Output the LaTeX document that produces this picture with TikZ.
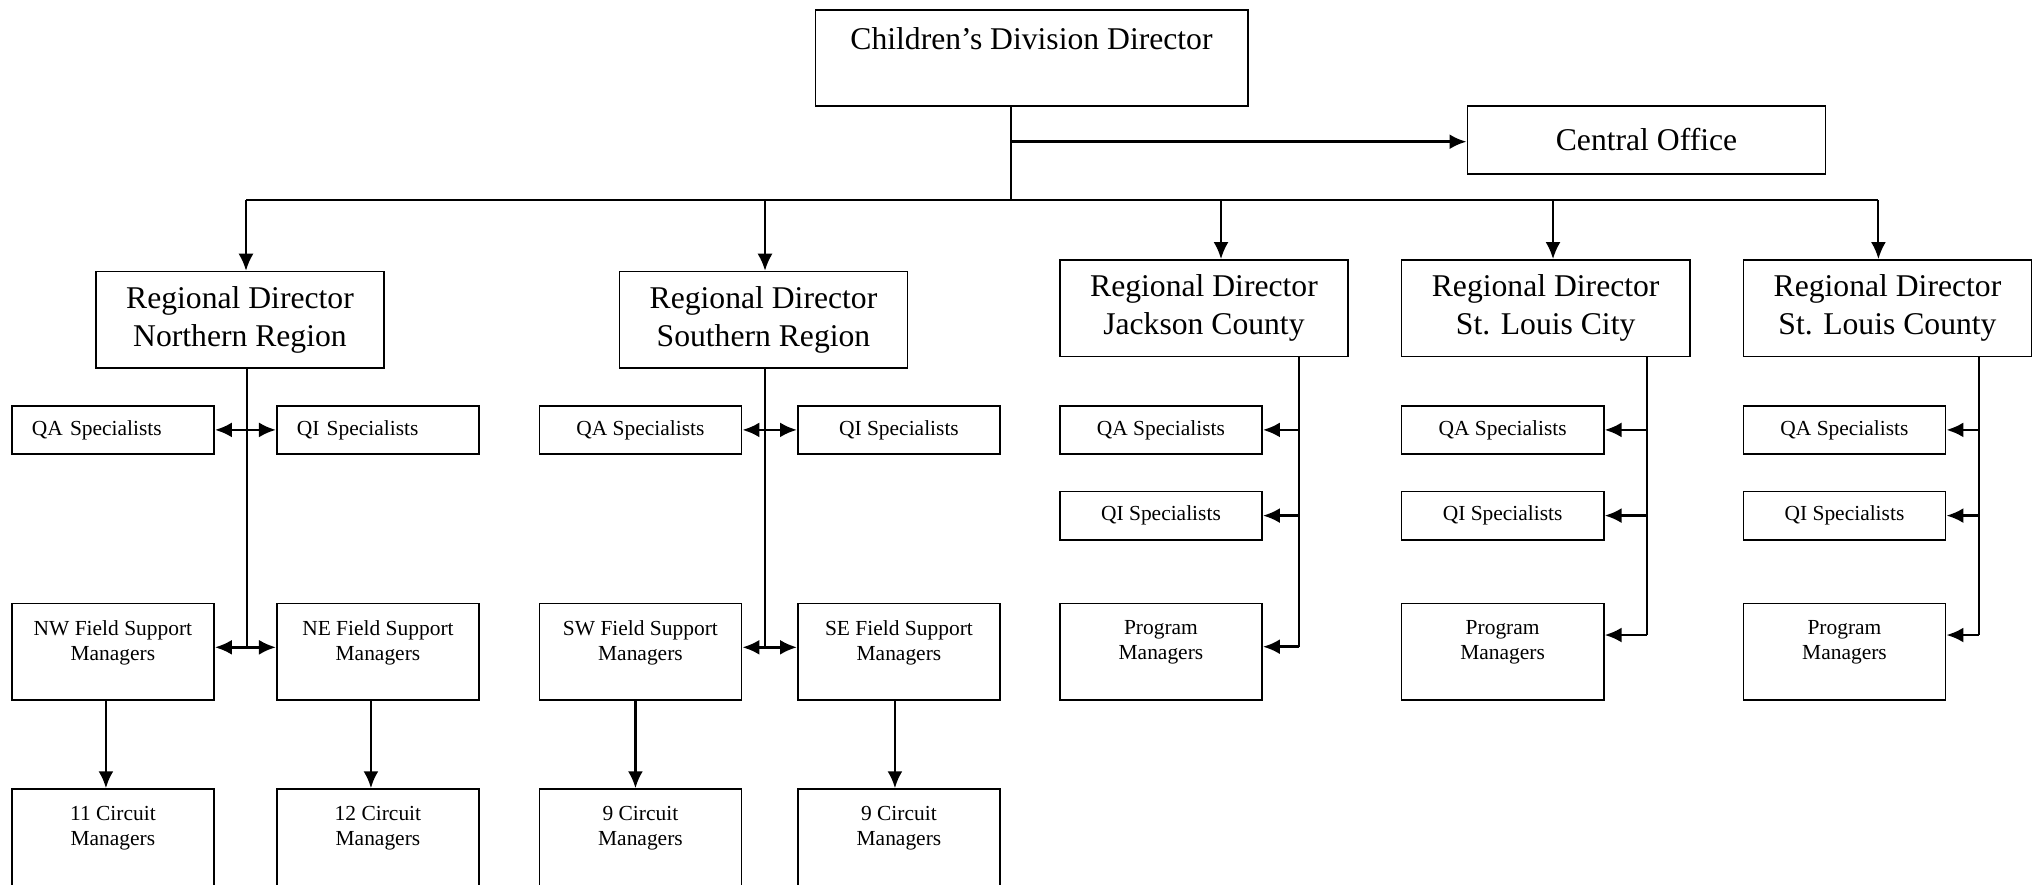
\documentclass[tikz,border=0pt]{standalone}
\usepackage{fontspec}
\setmainfont{Liberation Serif}
\usetikzlibrary{arrows.meta}
\tikzset{
  big/.style={font=\fontsize{9}{10.7}\selectfont},
  small/.style={font=\fontsize{6.1}{7.1}\selectfont},
  box/.style={draw, line width=.5pt, inner sep=0pt, anchor=north west, align=center},
  specbox/.style={box, small, minimum width=2.02cm, minimum height=.48cm},
  leftspec/.style={specbox, text width=1.62cm, align=left},
  rdbox/.style={box, big, minimum width=2.88cm, minimum height=.965cm},
  mgrbox/.style={box, minimum width=2.02cm, minimum height=.965cm,
    label={[small, align=center, anchor=north, inner sep=0pt, yshift=-.17cm]north:#1}},
  link/.style={line width=.6pt},
  arr/.style={->, line width=.8pt},
  darr/.style={<->, line width=.8pt}
}
\begin{document}
\begin{tikzpicture}[x=.01cm, y=-.01cm, >={Latex[length=1.7mm,width=1.5mm]}]
  \useasboundingbox (0,0) rectangle (2034,884);
  \clip (0,0) rectangle (2034,884);

  % director and central office
  \node[box, minimum width=4.32cm, minimum height=.96cm,
    label={[big, anchor=north, inner sep=0pt, yshift=-.18cm]north:Children’s Division Director}] (dir) at (814.5,9) {};
  \node[box, big, minimum width=3.58cm, minimum height=.68cm] (co) at (1466.5,105) {Central Office};
  \coordinate (hub) at (1011,200);
  \coordinate (tap) at (1011,141.7);
  \draw[link] (dir.south -| hub) -- (hub);
  \draw[arr] (tap) -- (tap -| co.west);

  % regional directors
  \node[rdbox] (rdn) at (95,270.7) {Regional Director\\Northern Region};
  \node[rdbox] (rds) at (618.5,270.7) {Regional Director\\Southern Region};
  \node[rdbox] (rdj) at (1059,259) {Regional Director\\Jackson County};
  \node[rdbox] (rdc) at (1400.7,259) {Regional Director\\St. Louis City};
  \node[rdbox] (rdk) at (1742.5,259) {Regional Director\\St. Louis County};

  \coordinate (bn) at (246,200);
  \coordinate (bs) at (765,200);
  \coordinate (bj) at (1221,200);
  \coordinate (bc) at (1553,200);
  \coordinate (bk) at (1878.4,200);
  \draw[link] (bn) -- (bk);
  \foreach \b/\n in {bn/rdn,bs/rds,bj/rdj,bc/rdc,bk/rdk}
    \draw[link,->] (\b) -- (\b |- \n.north);

  % northern region
  \node[leftspec] (qan) at (11,405) {QA Specialists};
  \node[leftspec] (qin) at (276,405) {QI Specialists};
  \node[mgrbox={NW Field Support\\Managers}] (nw) at (11,602.7) {};
  \node[mgrbox={NE Field Support\\Managers}] (ne) at (276,602.7) {};
  \node[mgrbox={11 Circuit\\Managers}, minimum height=1.1cm] (cnw) at (11,788.3) {};
  \node[mgrbox={12 Circuit\\Managers}, minimum height=1.1cm] (cne) at (276,788.3) {};
  \coordinate (vn) at (246.7,647.3);
  \draw[link] (vn |- rdn.south) -- (vn);
  \draw[darr] (qan.east) -- (qin.west);
  \draw[darr] (vn -| nw.east) -- (vn -| ne.west);
  \draw[arr] ([xshift=-.07cm]nw.south) -- ([xshift=-.07cm]cnw.north);
  \draw[arr] ([xshift=-.07cm]ne.south) -- ([xshift=-.07cm]cne.north);

  % southern region
  \node[specbox] (qas) at (538.5,405) {QA Specialists};
  \node[specbox] (qis) at (797,405) {QI Specialists};
  \node[mgrbox={SW Field Support\\Managers}] (sw) at (538.5,602.7) {};
  \node[mgrbox={SE Field Support\\Managers}] (se) at (797,602.7) {};
  \node[mgrbox={9 Circuit\\Managers}, minimum height=1.1cm] (csw) at (538.5,788.3) {};
  \node[mgrbox={9 Circuit\\Managers}, minimum height=1.1cm] (cse) at (797,788.3) {};
  \coordinate (vs) at (764.6,647.3);
  \draw[link] (vs |- rds.south) -- (vs);
  \draw[darr] (qas.east) -- (qis.west);
  \draw[darr] (vs -| sw.east) -- (vs -| se.west);
  \draw[arr] ([xshift=-.05cm]sw.south) -- ([xshift=-.05cm]csw.north);
  \draw[arr] ([xshift=-.04cm]se.south) -- ([xshift=-.04cm]cse.north);

  % jackson county, st. louis city, st. louis county
  \foreach \n/\x/\vx/\vy in {j/1059/1299.3/646.7, c/1400.7/1647/635, k/1742.5/1979/635}
  {
    \node[specbox] (qa\n) at (\x,405) {QA Specialists};
    \node[specbox] (qi\n) at (\x,490.7) {QI Specialists};
    \node[mgrbox={Program\\Managers}] (pm\n) at (\x,602.7) {};
    \coordinate (v\n) at (\vx,\vy);
    \draw[link] (v\n |- rd\n.south) -- (v\n);
    \draw[arr] (qa\n.east -| v\n) -- (qa\n.east);
    \draw[arr] (qi\n.east -| v\n) -- (qi\n.east);
    \draw[arr] (v\n) -- (v\n -| pm\n.east);
  }
\end{tikzpicture}
\end{document}
